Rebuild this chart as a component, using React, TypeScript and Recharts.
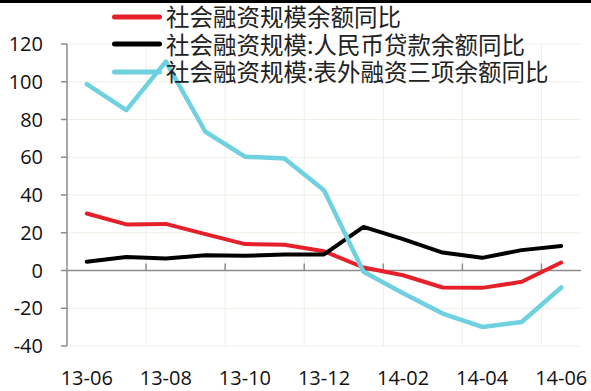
import React from 'react';
import { LineChart, Line, XAxis, YAxis, CartesianGrid, ReferenceLine, Legend } from 'recharts';

const categories = ['13-06','13-07','13-08','13-09','13-10','13-11','13-12','14-01','14-02','14-03','14-04','14-05','14-06'];
const totalYoY = [30.2, 24.4, 24.7, 19.3, 14.0, 13.6, 10.2, 1.6, -2.5, -9.0, -9.2, -6.0, 4.2];
const loanYoY = [4.6, 7.1, 6.3, 8.1, 7.8, 8.5, 8.5, 23.1, 16.6, 9.5, 6.7, 10.8, 13.0];
const offBalanceYoY = [98.7, 85.0, 110.7, 73.5, 60.3, 59.4, 42.5, -0.7, -12.0, -22.8, -29.9, -27.3, -9.0];
const seriesNames = ['社会融资规模余额同比', '社会融资规模:人民币贷款余额同比', '社会融资规模:表外融资三项余额同比'];
const seriesColors = ['#e5202a', '#000000', '#6fd0e0'];
const yTicks = [-40, -20, 0, 20, 40, 60, 80, 100, 120];
const xLabelIdx = [0, 2, 4, 6, 8, 10, 12];
const boundaries = [1.5, 3.5, 5.5, 7.5, 9.5, 11.5];

const data = categories.map((c, i) => ({ i, cat: c, s0: totalYoY[i], s1: loanYoY[i], s2: offBalanceYoY[i] }));

const axisFont = '"Open Sans", sans-serif';

const renderLegend = () => (
  <div style={{ fontFamily: '"Noto Sans CJK SC", sans-serif', fontSize: 23.5, color: '#222' }}>
    {seriesNames.map((n, k) => (
      <div key={n} style={{ height: 27.5, display: 'flex', alignItems: 'center', whiteSpace: 'nowrap', overflow: 'visible' }}>
        <svg width={54} height={10} style={{ flex: 'none' }}>
          <line x1={2.5} y1={5} x2={47.5} y2={5} stroke={seriesColors[k]} strokeWidth={5} strokeLinecap="round" />
        </svg>
        <span style={{ display: 'inline-block', height: 27.5, lineHeight: '27.5px', overflow: 'visible' }}>{n}</span>
      </div>
    ))}
  </div>
);

export default function App() {
  return (
    <div style={{ position: 'absolute', left: 0, top: 0, width: 591, height: 391, background: '#fff' }}>
      <LineChart width={591} height={391} data={data} margin={{ top: 44, right: 10, bottom: 0, left: 0 }}>
        <CartesianGrid vertical={false} stroke="#efefe6" strokeWidth={1} />
        {boundaries.map((b) => (
          <ReferenceLine key={'g' + b} x={b} stroke="#efefe6" strokeWidth={1} />
        ))}
        <XAxis
          type="number"
          dataKey="i"
          domain={[-0.5, 12.5]}
          ticks={xLabelIdx}
          tickFormatter={(v: number) => categories[v]}
          axisLine={false}
          tickLine={false}
          tickSize={0}
          tickMargin={25}
          height={45}
          interval={0}
          tick={{ fill: '#111', fontSize: 20, fontFamily: axisFont }}
        />
        <YAxis
          type="number"
          domain={[-40, 120]}
          ticks={yTicks}
          interval={0}
          width={67}
          axisLine={{ stroke: '#8c8c8c', strokeWidth: 1.5 }}
          tickLine={{ stroke: '#8c8c8c', strokeWidth: 1.5 }}
          tickSize={6}
          tickMargin={18}
          tick={{ fill: '#111', fontSize: 20, fontFamily: axisFont }}
        />
        <ReferenceLine y={0} stroke="#8c8c8c" strokeWidth={1.5} />
        {boundaries.map((b) => (
          <ReferenceLine key={'t' + b} segment={[{ x: b, y: 0 }, { x: b, y: 3.7 }]} stroke="#8c8c8c" strokeWidth={1.5} />
        ))}
        <Line type="linear" dataKey="s0" name={seriesNames[0]} stroke={seriesColors[0]} strokeWidth={4} dot={false} isAnimationActive={false} strokeLinejoin="round" strokeLinecap="round" />
        <Line type="linear" dataKey="s1" name={seriesNames[1]} stroke={seriesColors[1]} strokeWidth={4} dot={false} isAnimationActive={false} strokeLinejoin="round" strokeLinecap="round" />
        <Line type="linear" dataKey="s2" name={seriesNames[2]} stroke={seriesColors[2]} strokeWidth={4.5} dot={false} isAnimationActive={false} strokeLinejoin="round" strokeLinecap="round" />
        <Legend
          layout="horizontal"
          verticalAlign="middle"
          align="center"
          content={renderLegend}
          wrapperStyle={{ top: 3, left: 112, width: 'auto', height: 'auto' }}
        />
      </LineChart>
      <div style={{ position: 'absolute', left: 0, top: 0, width: 591, height: 3, background: '#000' }} />
    </div>
  );
}
